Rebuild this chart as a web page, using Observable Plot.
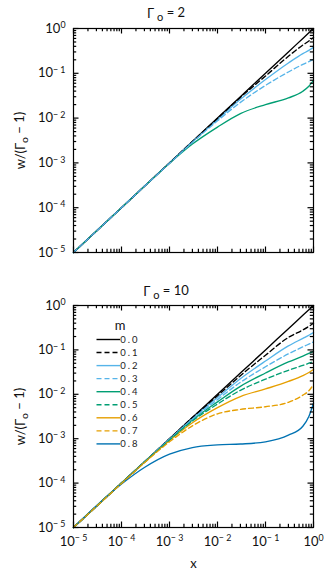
<!DOCTYPE html>
<html><head><meta charset="utf-8">
<script src="https://cdn.jsdelivr.net/npm/d3@7"></script>
<script src="https://cdn.jsdelivr.net/npm/@observablehq/plot@0.6"></script>
<style>body{margin:0;background:#fff;} svg{display:block;}</style>
</head><body><div id="chart"></div>
<script>
// ---------- data ----------
const mLabels = ["0.0","0.1","0.2","0.3","0.4","0.5","0.6","0.7","0.8"];
const xGrid = [1e-5, 1e-4, 3e-4, 1e-3, 3e-3, 1e-2, 3e-2, 0.1, 0.3, 0.6, 0.8, 1];

// Γo = 2 panel
const g2_m00 = [1e-5, 1e-4, 3e-4, 1e-3, 3e-3, 1e-2, 3e-2, 0.1, 0.3, 0.6, 0.8, 1];
const g2_m01 = [1e-5, 1e-4, 3.0e-4, 1.0e-3, 3.0e-3, 9.8e-3, 2.9e-2, 8.7e-2, 0.240, 0.427, 0.525, 0.631];
const g2_m02 = [1e-5, 1e-4, 3.0e-4, 1.0e-3, 2.95e-3, 9.3e-3, 2.63e-2, 7.24e-2, 0.170, 0.275, 0.324, 0.380];
const g2_m03 = [1e-5, 1e-4, 3.0e-4, 9.8e-4, 2.88e-3, 8.7e-3, 2.24e-2, 5.37e-2, 0.107, 0.158, 0.182, 0.204];
const g2_m04 = [1e-5, 1e-4, 3.0e-4, 9.8e-4, 2.63e-3, 6.3e-3, 1.26e-2, 2.0e-2, 2.82e-2, 3.98e-2, 5.13e-2, 6.92e-2];

// Γo = 10 panel
const g10_m00 = [1e-5, 1e-4, 3e-4, 1e-3, 3e-3, 1e-2, 3e-2, 0.1, 0.3, 0.6, 0.8, 1];
const g10_m01 = [1e-5, 1e-4, 3.0e-4, 1.0e-3, 3.0e-3, 9.3e-3, 2.63e-2, 7.59e-2, 0.191, 0.282, 0.339, 0.398];
const g10_m02 = [1e-5, 1e-4, 3.0e-4, 9.8e-4, 2.88e-3, 8.5e-3, 2.24e-2, 5.62e-2, 0.123, 0.182, 0.214, 0.245];
const g10_m03 = [1e-5, 1e-4, 3.0e-4, 9.8e-4, 2.75e-3, 7.6e-3, 1.86e-2, 4.17e-2, 8.13e-2, 0.117, 0.135, 0.151];
const g10_m04 = [1e-5, 1e-4, 3.0e-4, 9.5e-4, 2.63e-3, 6.76e-3, 1.51e-2, 3.02e-2, 5.37e-2, 7.24e-2, 8.32e-2, 9.33e-2];
const g10_m05 = [1e-5, 1e-4, 2.95e-4, 9.3e-4, 2.51e-3, 6.03e-3, 1.23e-2, 2.19e-2, 3.47e-2, 4.47e-2, 5.01e-2, 5.5e-2];
const g10_m06 = [1e-5, 1e-4, 2.95e-4, 9.1e-4, 2.29e-3, 5.01e-3, 8.9e-3, 1.32e-2, 1.95e-2, 2.63e-2, 3.09e-2, 3.63e-2];
const g10_m07 = [1e-5, 9.8e-5, 2.88e-4, 8.5e-4, 1.95e-3, 3.63e-3, 4.57e-3, 5.25e-3, 6.61e-3, 9.55e-3, 1.2e-2, 1.66e-2];
const g10_m08 = [1e-5, 9.5e-5, 2.24e-4, 4.47e-4, 6.31e-4, 7.24e-4, 7.59e-4, 8.51e-4, 1.2e-3, 1.91e-3, 3.16e-3, 6.31e-3];

const majorTicks = [1e-5, 1e-4, 1e-3, 1e-2, 1e-1, 1];
const minorTicks = [2,3,4,5,6,7,8,9].flatMap(k => [1e-5,1e-4,1e-3,1e-2,1e-1].map(p => k * p));

// ---------- styles ----------
const palette = ["#000000","#000000","#56B4E9","#56B4E9","#009E73","#009E73","#E69F00","#E69F00","#0072B2"];
const dashedSet = new Set(["0.1","0.3","0.5","0.7"]);
const FONT = "Lato, 'Open Sans', sans-serif";
const MAJ = 5.5, MIN = 3.2;
const W = 325, ML = 73, MR = 12;

function rows(seriesList) {
  const out = [];
  seriesList.forEach((ys, i) => ys.forEach((w, j) => out.push({x: xGrid[j], w, m: mLabels[i]})));
  return out;
}
const panelTopData = rows([g2_m00, g2_m01, g2_m02, g2_m03, g2_m04]);
const panelBotData = rows([g10_m00, g10_m01, g10_m02, g10_m03, g10_m04, g10_m05, g10_m06, g10_m07, g10_m08]);

function fmtPow(d) {
  const e = Math.round(Math.log10(d));
  return e === 0 ? "10^0" : "10^\u2212 " + (-e);
}

function fixText(svg) {
  d3.select(svg).selectAll("text").each(function() {
    const s = d3.select(this);
    if (!s.selectAll("tspan").empty()) return;
    const t = s.text();
    if (t.includes("^")) {
      const [b, e] = t.split("^");
      s.text(b);
      s.append("tspan").attr("dy", "-0.5em").attr("font-size", "0.68em").text(e);
    } else if (t.includes("Γ_o")) {
      const [a, b] = t.split("Γ_o");
      s.text(a + "Γ");
      s.append("tspan").attr("dy", "0.3em").attr("font-size", "0.8em").text("o");
      s.append("tspan").attr("dy", "-0.3em").text(b);
    }
  });
}

function addTitle(svg, value) {
  const t = d3.select(svg).append("text")
    .attr("x", 166).attr("y", 18).attr("font-family", FONT).attr("font-size", 13)
    .attr("fill", "#111").text("Γ");
  t.append("tspan").attr("dx", 3).attr("dy", "0.3em").attr("font-size", "0.85em").text("o");
  t.append("tspan").attr("dy", "-0.3em").text(" = " + value);
}

function tickMarks(plotH) {
  const plotW = W - ML - MR;
  const out = [];
  for (const [tv, len] of [[majorTicks, MAJ], [minorTicks, MIN]]) {
    const st = {stroke: "black", strokeWidth: 1.2};
    out.push(
      Plot.tickX(tv, {x: d => d, insetTop: plotH - len, ...st}),     // bottom edge, inward
      Plot.tickX(tv, {x: d => d, insetBottom: plotH - len, ...st}),  // top edge, inward
      Plot.tickY(tv, {y: d => d, insetRight: plotW - len, ...st}),   // left edge, inward
      Plot.tickY(tv, {y: d => d, insetLeft: plotW - len, ...st})     // right edge, inward
    );
  }
  return out;
}

function panel(data, {height, marginTop, marginBottom, showX}) {
  const plotH = height - marginTop - marginBottom;
  const marks = [
    Plot.line(data.filter(d => !dashedSet.has(d.m)), {x: "x", y: "w", z: "m", stroke: "m", strokeWidth: 1.35, curve: "monotone-x"}),
    Plot.line(data.filter(d => dashedSet.has(d.m)), {x: "x", y: "w", z: "m", stroke: "m", strokeWidth: 1.35, strokeDasharray: "5,3", curve: "monotone-x"}),
    ...tickMarks(plotH),
    Plot.frame({stroke: "black", strokeWidth: 1.2}),
    Plot.axisY({anchor: "left", ticks: majorTicks, tickSize: 0, tickPadding: 8, tickFormat: fmtPow,
      label: "w/(Γ_o \u2212 1)", labelAnchor: "center", labelOffset: 58, labelArrow: "none", fontSize: 13})
  ];
  if (showX) {
    marks.push(Plot.axisX({anchor: "bottom", ticks: majorTicks, tickSize: 0, tickPadding: 9, tickFormat: fmtPow,
      label: "x", labelAnchor: "center", labelOffset: 40, labelArrow: "none", fontSize: 13}));
  }
  return Plot.plot({
    width: W, height, marginLeft: ML, marginRight: MR, marginTop, marginBottom,
    style: {fontFamily: FONT, fontSize: "13px", background: "white", color: "#111", overflow: "visible"},
    x: {type: "log", domain: [1e-5, 1], axis: null},
    y: {type: "log", domain: [1e-5, 1]},
    color: {domain: mLabels, range: palette},
    marks
  });
}

const chart = document.getElementById("chart");

const svgTop = panel(panelTopData, {height: 278, marginTop: 28, marginBottom: 26, showX: false});
fixText(svgTop);
addTitle(svgTop, "2");
chart.appendChild(svgTop);

const svgBot = panel(panelBotData, {height: 300, marginTop: 27, marginBottom: 51, showX: true});
fixText(svgBot);
addTitle(svgBot, "10");

const lg = d3.select(svgBot).append("g").attr("font-family", FONT);
lg.append("text").attr("x", 120).attr("y", 47).attr("text-anchor", "middle")
  .attr("dominant-baseline", "central").attr("font-size", 13).attr("fill", "#111").text("m");
mLabels.forEach((m, i) => {
  const y = 61.5 + i * 13.05;
  lg.append("line").attr("x1", 96.5).attr("x2", 120).attr("y1", y).attr("y2", y)
    .attr("stroke", palette[i]).attr("stroke-width", 1.4)
    .attr("stroke-dasharray", dashedSet.has(m) ? "5,3" : null);
  lg.append("text").attr("x", 130).attr("y", y).attr("dominant-baseline", "central")
    .attr("font-size", 9.5).attr("letter-spacing", 2).attr("fill", "#222").text(m);
});
chart.appendChild(svgBot);
</script>
</body></html>
